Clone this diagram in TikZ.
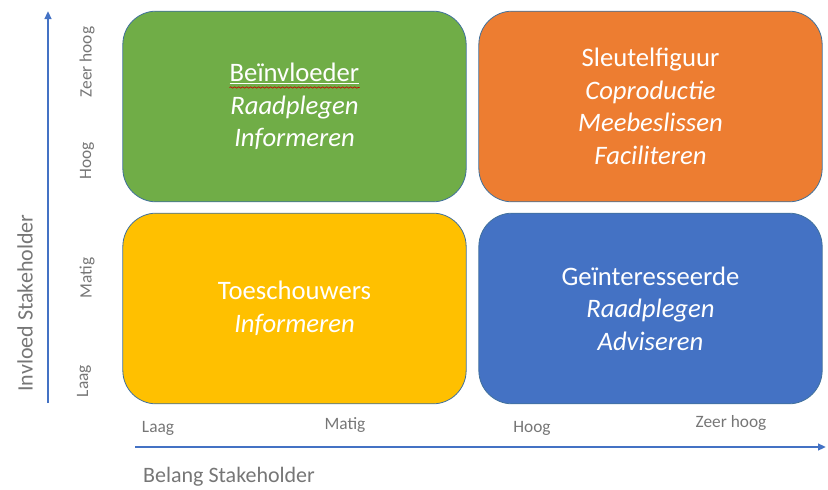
\documentclass[tikz,border=0pt]{standalone}
\usepackage{fontspec}
\setmainfont{Carlito}
\usetikzlibrary{arrows.meta,calc,decorations.pathmorphing}
\definecolor{cgreen}{RGB}{112,173,71}
\definecolor{corange}{RGB}{237,125,49}
\definecolor{cyellow}{RGB}{255,192,0}
\definecolor{cblue}{RGB}{68,114,196}
\definecolor{cedge}{RGB}{65,113,156}
\definecolor{cgreytext}{RGB}{118,118,118}
\begin{document}
\begin{tikzpicture}[x=0.75pt,y=-0.75pt,
  quad/.style={draw=cedge,line width=0.6pt,rounded corners=25pt,minimum width=257.5pt,minimum height=143pt,
    text=white,align=center,font=\fontsize{20}{24.4}\selectfont,inner sep=0pt},
  axislab/.style={text=cgreytext,font=\fontsize{13}{15}\selectfont,inner sep=0pt},
  axistitle/.style={text=cgreytext,font=\fontsize{16.5}{19}\selectfont,inner sep=0pt},
  axisline/.style={draw=cblue,line width=1.5pt,-{Triangle[length=6pt,width=5pt]}}]
\useasboundingbox (0,0) rectangle (828,489);
% quadrants
\node[quad,fill=cgreen] (g) at (294.5,106.5) {\underline{Beïnvloeder}\\ \textit{Raadplegen}\\ \textit{Informeren}};
\node[quad,fill=corange] (o) at (650.5,106.5) {Sleutelfiguur\\ \textit{Coproductie}\\ \textit{Meebeslissen}\\ \textit{Faciliteren}};
\node[quad,fill=cyellow] (y) at (294.5,308.5) {Toeschouwers\\ \textit{Informeren}};
\node[quad,fill=cblue] (b) at (650.5,308.5) {Geïnteresseerde\\ \textit{Raadplegen}\\ \textit{Adviseren}};
% spelling squiggle
\draw[red!80!black,line width=0.5pt,decorate,decoration={snake,amplitude=0.5pt,segment length=3pt}]
  ($(g.center)+(-65,-19)$) -- ($(g.center)+(65,-19)$);
% axes
\coordinate (vstart) at (48,403);
\coordinate (vend) at (48,11);
\coordinate (hstart) at (135,447);
\coordinate (hend) at (826,447);
\draw[axisline] (vstart) -- (vend);
\draw[axisline] (hstart) -- (hend);
% vertical labels
\node[axislab,rotate=90] (vzh) at (87,62) {Zeer hoog};
\node[axislab,rotate=90] (vh) at (87,161) {Hoog};
\node[axislab,rotate=90] (vm) at (87,278) {Matig};
\node[axislab,rotate=90] (vl) at (84,381) {Laag};
\node[axistitle,rotate=90] (vt) at (25,303) {Invloed Stakeholder};
% horizontal labels
\node[axislab] (hl) at (158,428) {Laag};
\node[axislab] (hm) at (345,425) {Matig};
\node[axislab] (hh) at (532,428) {Hoog};
\node[axislab] (hzh) at (731,423) {Zeer hoog};
\node[axistitle] (ht) at (229,477) {Belang Stakeholder};
\end{tikzpicture}
\end{document}
